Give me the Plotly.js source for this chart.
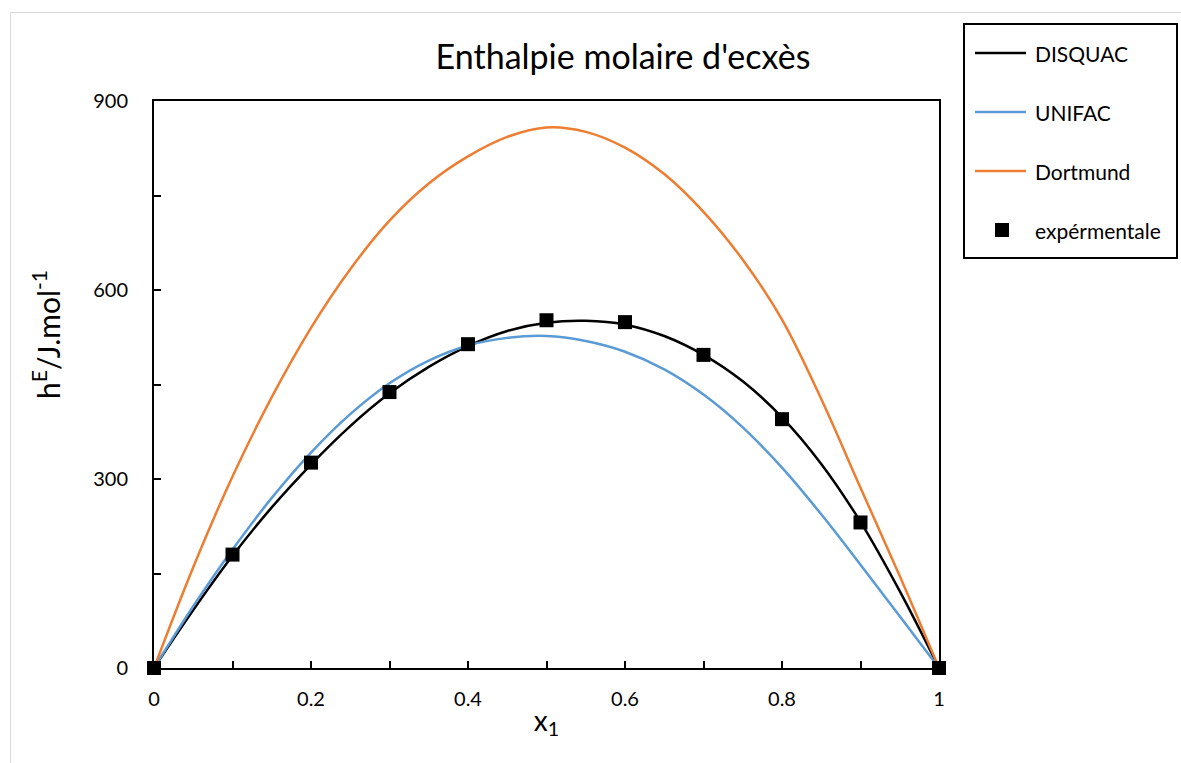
<!DOCTYPE html>
<html>
<head>
<meta charset="utf-8">
<script src="https://cdn.plot.ly/plotly-3.0.1.min.js"></script>
<style>
  html, body { margin: 0; padding: 0; background: #fff; }
  #wrap { position: relative; width: 1181px; height: 763px; overflow: hidden; }
  #frame { position: absolute; left: 10px; top: 12px; width: 1180px; height: 760px; border: 1.5px solid #d9d9d9; box-sizing: border-box; pointer-events: none; }
  #chart { position: absolute; left: 0; top: 0; width: 1181px; height: 763px; }
</style>
</head>
<body>
<div id="wrap">
  <div id="chart"></div>
  <div id="frame"></div>
</div>
<script>
// Curve abscissae
const xCurve = [0, 0.05, 0.1, 0.15, 0.2, 0.25, 0.3, 0.35, 0.4, 0.45, 0.5, 0.55, 0.6, 0.65, 0.7, 0.75, 0.8, 0.85, 0.9, 0.95, 1];
// Model series (J/mol)
const disquac  = [0, 92, 178, 255, 323, 384, 436, 478, 511, 535, 548, 551, 545, 527, 497, 455, 398, 324, 232, 122, 0];
const unifac   = [0, 98, 188, 270, 342, 403, 452, 488, 512, 524, 527, 519, 502, 474, 434, 382, 318, 244, 164, 82, 0];
const dortmund = [0, 160, 304, 430, 540, 633, 710, 769, 812, 843, 858, 851, 826, 784, 724, 648, 553, 427, 286, 146, 0];
// Experimental points
const xExp = [0, 0.1, 0.2, 0.3, 0.4, 0.5, 0.6, 0.7, 0.8, 0.9, 1];
const hExp = [0, 180, 326, 438, 514, 552, 549, 497, 395, 231, 0];
// Tick labels
const xTickVals = [0, 0.2, 0.4, 0.6, 0.8, 1];
const xTickText = ["0", "0.2", "0.4", "0.6", "0.8", "1"];
const yTickVals = [0, 300, 600, 900];
const yTickText = ["0", "300", "600", "900"];
// Legend entries
const legendNames = ["DISQUAC", "UNIFAC", "Dortmund", "expérmentale"];
const legendColors = ["#000000", "#5B9BD5", "#ED7D31", "#000000"];

const FONT = "Lato, 'Noto Sans', sans-serif";

// plot area in pixels (for placing the hand-drawn legend box)
const W = 1181, H = 763, ML = 154, MR = 242, MT = 101, MB = 95;
const PW = W - ML - MR, PH = H - MT - MB;
const px = v => (v - ML) / PW;
const py = v => (H - MB - v) / PH;

const traces = [
  { x: xCurve, y: disquac, name: legendNames[0], mode: "lines", type: "scatter",
    line: { color: legendColors[0], width: 2.5, shape: "spline" } },
  { x: xCurve, y: unifac, name: legendNames[1], mode: "lines", type: "scatter",
    line: { color: legendColors[1], width: 2.5, shape: "spline" } },
  { x: xCurve, y: dortmund, name: legendNames[2], mode: "lines", type: "scatter",
    line: { color: legendColors[2], width: 2.5, shape: "spline" } },
  { x: xExp, y: hExp, name: legendNames[3], mode: "markers", type: "scatter",
    marker: { color: legendColors[3], symbol: "square", size: 14 }, cliponaxis: false }
];

// Legend drawn as shapes + annotations (Excel style)
const shapes = [
  { type: "rect", xref: "paper", yref: "paper", x0: px(964), x1: px(1177), y0: py(258), y1: py(24),
    line: { color: "#000", width: 2 }, fillcolor: "#fff", layer: "above" }
];
const annotations = [];
const rowY = [53, 112, 171, 230];
legendNames.forEach((n, i) => {
  if (i < 3) {
    shapes.push({ type: "line", xref: "paper", yref: "paper", x0: px(975), x1: px(1026), y0: py(rowY[i]), y1: py(rowY[i]),
      line: { color: legendColors[i], width: 2.5 }, layer: "above" });
  } else {
    shapes.push({ type: "rect", xref: "paper", yref: "paper", x0: px(995), x1: px(1009), y0: py(rowY[i] + 7), y1: py(rowY[i] - 7),
      line: { color: legendColors[i], width: 0 }, fillcolor: legendColors[i], layer: "above" });
  }
  annotations.push({ text: n, xref: "paper", yref: "paper", x: px(1033), y: py(rowY[i]), xanchor: "left", yanchor: "middle",
    showarrow: false, font: { family: FONT, size: 21, color: "#000" } });
});
// y-axis title (placed like the original, above the axis centre)
annotations.push({ text: "h<sup>E</sup>/J.mol<sup>-1</sup>", xref: "paper", yref: "paper", x: px(46), y: py(335),
  xanchor: "center", yanchor: "middle", textangle: -90, showarrow: false,
  font: { family: FONT, size: 30, color: "#000" } });

const layout = {
  width: W, height: H,
  margin: { l: ML, r: MR, t: MT, b: MB },
  paper_bgcolor: "rgba(0,0,0,0)", plot_bgcolor: "#ffffff",
  font: { family: FONT, color: "#000000", size: 20 },
  title: { text: "Enthalpie molaire d'ecxès", font: { family: FONT, size: 34, color: "#000" },
           x: px(623), xref: "paper", xanchor: "center", y: 1 - 57 / H, yref: "container", yanchor: "middle" },
  xaxis: {
    range: [0, 1], showgrid: false, zeroline: false,
    showline: true, linecolor: "#000", linewidth: 2, mirror: true,
    ticks: "inside", ticklen: 7, tickwidth: 2, tickcolor: "#000",
    tickvals: xTickVals, ticktext: xTickText, ticklabelstandoff: 12,
    tickfont: { family: FONT, size: 20 },
    minor: { dtick: 0.1, ticks: "inside", ticklen: 7, tickwidth: 2, tickcolor: "#000" },
    title: { text: "x<sub>1</sub>", font: { family: FONT, size: 28 }, standoff: 2 }
  },
  yaxis: {
    range: [0, 900], showgrid: false, zeroline: false,
    showline: true, linecolor: "#000", linewidth: 2, mirror: true,
    ticks: "inside", ticklen: 7, tickwidth: 2, tickcolor: "#000",
    tickvals: yTickVals, ticktext: yTickText, ticklabelstandoff: 20,
    tickfont: { family: FONT, size: 20 },
    minor: { dtick: 150, ticks: "inside", ticklen: 7, tickwidth: 2, tickcolor: "#000" }
  },
  showlegend: false,
  shapes: shapes,
  annotations: annotations
};

Plotly.newPlot("chart", traces, layout, { displayModeBar: false, staticPlot: true });
</script>
</body>
</html>
